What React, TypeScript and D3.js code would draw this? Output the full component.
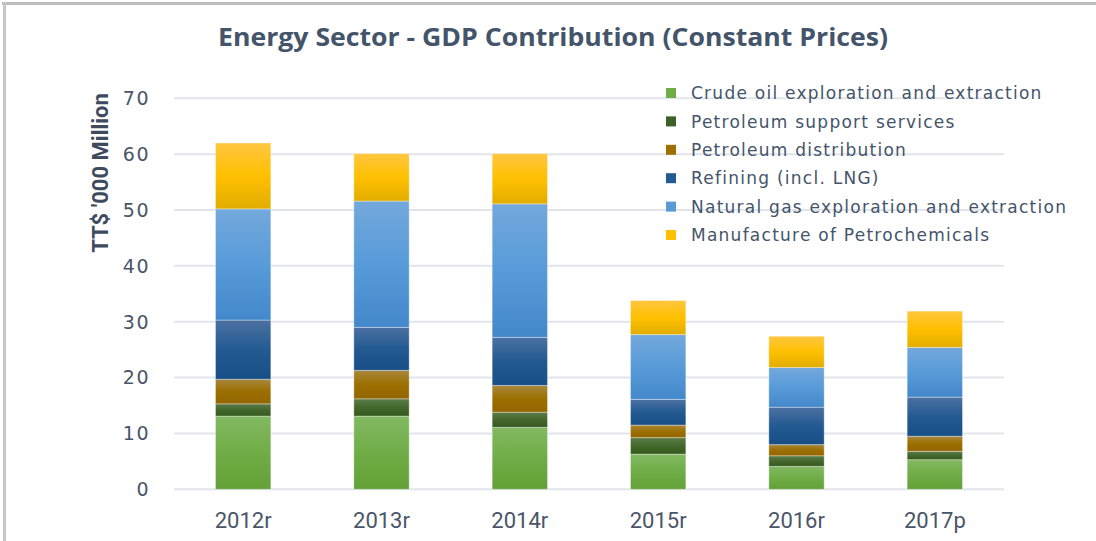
import { useEffect, useRef } from 'react';
import * as d3 from 'd3';

const categories = ['2012r', '2013r', '2014r', '2015r', '2016r', '2017p'];
const crudeOil = [13.1, 13.1, 11.1, 6.3, 4.1, 5.3];
const supportServices = [2.2, 3.1, 2.7, 2.95, 1.9, 1.5];
const distribution = [4.4, 5.1, 4.8, 2.25, 2.0, 2.7];
const refining = [10.6, 7.7, 8.6, 4.6, 6.7, 7.0];
const naturalGas = [19.9, 22.6, 23.9, 11.6, 7.1, 8.9];
const petrochemicals = [11.8, 8.5, 9.0, 6.1, 5.6, 6.5];
const yTicks = [0, 10, 20, 30, 40, 50, 60, 70];

const seriesNames = [
    'Crude oil exploration and extraction',
    'Petroleum support services',
    'Petroleum distribution',
    'Refining (incl. LNG)',
    'Natural gas exploration and extraction',
    'Manufacture of Petrochemicals',
];
const seriesValues = [crudeOil, supportServices, distribution, refining, naturalGas, petrochemicals];

// gradient stops per series: top (light), middle, bottom (dark)
const gradients = [
    ['#82b962', '#70ad47', '#63a036'],
    ['#5c7c4a', '#43682b', '#36591e'],
    ['#a9883f', '#9c6f00', '#936500'],
    ['#4c71a1', '#235a92', '#174e86'],
    ['#74a8db', '#579bd9', '#4388ca'],
    ['#ffc640', '#ffc000', '#e2ad00'],
];
const legendColors = ['#70ad47', '#3d6027', '#9c6f00', '#235a92', '#5b9bd5', '#ffc000'];

export default function App() {
    const svgRef = useRef<SVGSVGElement>(null);

    useEffect(() => {
        const W = 1096;
        const H = 541;
        const svg = d3.select(svgRef.current).attr('width', W).attr('height', H);
        svg.selectAll('*').remove();

        const defs = svg.append('defs');
        gradients.forEach((g, i) => {
            const lg = defs
                .append('linearGradient')
                .attr('id', `grad${i}`)
                .attr('x1', 0)
                .attr('y1', 0)
                .attr('x2', 0)
                .attr('y2', 1);
            lg.append('stop').attr('offset', '0%').attr('stop-color', g[0]);
            lg.append('stop').attr('offset', '50%').attr('stop-color', g[1]);
            lg.append('stop').attr('offset', '100%').attr('stop-color', g[2]);
        });

        svg.append('rect').attr('width', W).attr('height', H).attr('fill', '#fff');

        // frame (top and left edges)
        svg.append('rect').attr('x', 2).attr('y', 2).attr('width', W - 2).attr('height', 3).attr('fill', '#bdbdbd');
        svg.append('rect').attr('x', 3).attr('y', 2).attr('width', 3).attr('height', H - 2).attr('fill', '#c6c6c6');

        const x = d3.scaleBand().domain(categories).range([174, 1004]).paddingInner(0.6).paddingOuter(0.3);
        const y = d3.scaleLinear().domain([0, 70]).range([489.3, 98.3]);

        // gridlines
        svg.append('g')
            .selectAll('line')
            .data(yTicks)
            .enter()
            .append('line')
            .attr('x1', 174)
            .attr('x2', 1004)
            .attr('y1', (d) => y(d))
            .attr('y2', (d) => y(d))
            .attr('stroke', '#e1e5eb')
            .attr('stroke-width', 2);

        // y tick labels
        svg.append('g')
            .selectAll('text')
            .data(yTicks)
            .enter()
            .append('text')
            .attr('x', 150)
            .attr('y', (d) => y(d))
            .attr('dy', '0.36em')
            .attr('text-anchor', 'end')
            .style('font-family', 'DejaVu Sans, sans-serif')
            .style('font-size', '19px')
            .style('letter-spacing', '1.5px')
            .style('fill', '#4a5569')
            .text((d) => d);

        // stacked bars
        const stacked = categories.map((c, j) => {
            let acc = 0;
            return seriesValues.map((s, i) => {
                const y0 = acc;
                acc += s[j];
                return { cat: c, i, y0, y1: acc };
            });
        });

        svg.append('g')
            .selectAll('g')
            .data(stacked)
            .enter()
            .append('g')
            .selectAll('rect')
            .data((d) => d)
            .enter()
            .append('rect')
            .attr('x', (d) => x(d.cat)!)
            .attr('width', x.bandwidth())
            .attr('y', (d) => y(d.y1))
            .attr('height', (d) => y(d.y0) - y(d.y1))
            .attr('fill', (d) => `url(#grad${d.i})`)
            .attr('stroke', 'rgba(255,255,255,0.35)')
            .attr('stroke-width', 1);

        // x labels
        svg.append('g')
            .selectAll('text')
            .data(categories)
            .enter()
            .append('text')
            .attr('x', (d) => x(d)! + x.bandwidth() / 2)
            .attr('y', 528)
            .attr('text-anchor', 'middle')
            .style('font-family', 'Liberation Sans Narrow, Roboto, sans-serif')
            .style('font-size', '22px')
            .style('fill', '#4a5569')
            .text((d) => d);

        // title
        svg.append('text')
            .attr('x', 553)
            .attr('y', 46)
            .attr('text-anchor', 'middle')
            .attr('textLength', 670)
            .attr('lengthAdjust', 'spacingAndGlyphs')
            .style('font-family', 'Open Sans, sans-serif')
            .style('font-weight', '700')
            .style('font-size', '25px')
            .style('fill', '#44546a')
            .text('Energy Sector - GDP Contribution (Constant Prices)');

        // y axis title
        svg.append('text')
            .attr('transform', 'translate(108,173) rotate(-90)')
            .attr('text-anchor', 'middle')
            .style('font-family', 'Liberation Sans Narrow, Roboto, sans-serif')
            .style('font-weight', '700')
            .style('font-size', '22px')
            .style('fill', '#3e4a5e')
            .text("TT$ '000 Million");

        // legend
        const legend = svg.append('g').attr('transform', 'translate(666,93)');
        seriesNames.forEach((name, i) => {
            const row = legend.append('g').attr('transform', `translate(0,${i * 28.4})`);
            row.append('rect')
                .attr('x', 0)
                .attr('y', -5)
                .attr('width', 10)
                .attr('height', 10)
                .attr('fill', legendColors[i]);
            row.append('text')
                .attr('x', 25)
                .attr('y', 0)
                .attr('dy', '0.36em')
                .style('font-family', 'DejaVu Sans, sans-serif')
                .style('font-size', '17px')
                .style('letter-spacing', '1.25px')
                .style('fill', '#44546a')
                .text(name);
        });
    }, []);

    return (
        <div style={{ position: 'absolute', left: 0, top: 0 }}>
            <svg ref={svgRef} style={{ display: 'block' }}></svg>
        </div>
    );
}
